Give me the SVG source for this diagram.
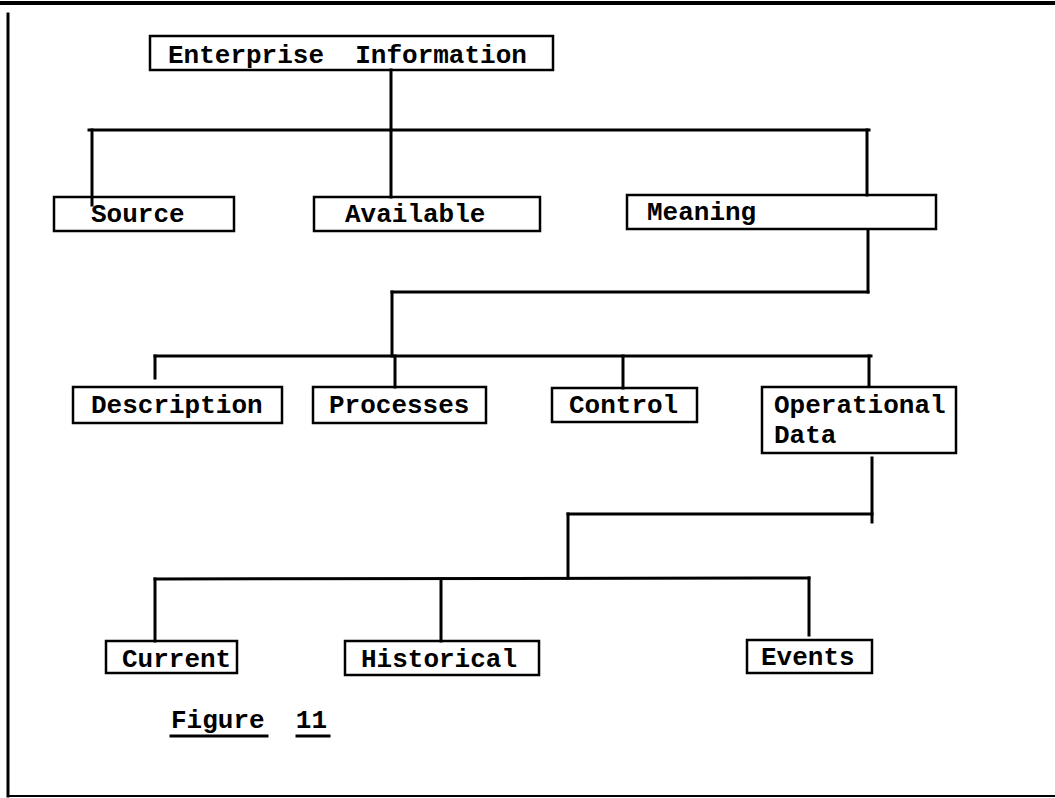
<svg xmlns="http://www.w3.org/2000/svg" width="1055" height="798" viewBox="0 0 1055 798">
<style>
.box{fill:none;stroke:#000;stroke-width:2.5}
.ln{stroke:#000;stroke-width:3;fill:none;stroke-linecap:square}
.t{font-family:"Liberation Mono","Courier New",monospace;font-size:26px;font-weight:bold;fill:#000}
</style>
<rect width="1055" height="798" fill="#fff"/>
<g id="border" class="ln">
<line x1="0" y1="3" x2="1055" y2="3" stroke-width="4"/>
<line x1="8" y1="14" x2="8" y2="796"/>
<line x1="8" y1="796" x2="1055" y2="796" stroke-width="2"/>
</g>
<g id="connectors" class="ln">
<line x1="391" y1="70" x2="391" y2="130"/>
<line x1="89" y1="130" x2="869" y2="130"/>
<line x1="92" y1="130" x2="92" y2="205"/>
<line x1="391" y1="130" x2="391" y2="197"/>
<line x1="867" y1="130" x2="867" y2="195"/>
<line x1="868" y1="231" x2="868" y2="292"/>
<line x1="392" y1="292" x2="868" y2="292"/>
<line x1="392" y1="292" x2="392" y2="356"/>
<line x1="155" y1="356" x2="871" y2="356"/>
<line x1="155" y1="356" x2="155" y2="378"/>
<line x1="395" y1="356" x2="395" y2="387"/>
<line x1="623" y1="356" x2="623" y2="388"/>
<line x1="869" y1="356" x2="869" y2="385"/>
<line x1="872" y1="458" x2="872" y2="522"/>
<line x1="568" y1="514" x2="872" y2="514"/>
<line x1="568" y1="514" x2="568" y2="578"/>
<line x1="155" y1="579" x2="809" y2="578"/>
<line x1="155" y1="579" x2="155" y2="641"/>
<line x1="441" y1="579" x2="441" y2="641"/>
<line x1="809" y1="578" x2="809" y2="635"/>
</g>
<g id="enterprise"><rect class="box" x="150" y="36" width="403" height="34"/><text class="t" x="168" y="63" xml:space="preserve">Enterprise  Information</text></g>
<g id="source"><rect class="box" x="54" y="197" width="180" height="34"/><text class="t" x="91" y="222">Source</text></g>
<g id="available"><rect class="box" x="314" y="197" width="226" height="34"/><text class="t" x="345" y="222">Available</text></g>
<g id="meaning"><rect class="box" x="627" y="195" width="309" height="34"/><text class="t" x="647" y="220">Meaning</text></g>
<g id="description"><rect class="box" x="73" y="387" width="209" height="36"/><text class="t" x="91" y="413">Description</text></g>
<g id="processes"><rect class="box" x="313" y="387" width="173" height="36"/><text class="t" x="329" y="413">Processes</text></g>
<g id="control"><rect class="box" x="552" y="388" width="145" height="34"/><text class="t" x="569" y="413">Control</text></g>
<g id="operational"><rect class="box" x="762" y="387" width="194" height="66"/><text class="t" x="774" y="413">Operational</text><text class="t" x="774" y="443">Data</text></g>
<g id="current"><rect class="box" x="106" y="641" width="131" height="32"/><text class="t" x="122" y="667">Current</text></g>
<g id="historical"><rect class="box" x="345" y="641" width="194" height="34"/><text class="t" x="361" y="667">Historical</text></g>
<g id="events"><rect class="box" x="747" y="640" width="125" height="33"/><text class="t" x="761" y="665">Events</text></g>
<g id="caption"><text class="t" x="171" y="728" xml:space="preserve">Figure  11</text>
<line class="ln" x1="171" y1="736" x2="267" y2="736" stroke-width="2.5"/>
<line class="ln" x1="297" y1="736" x2="329" y2="736" stroke-width="2.5"/></g>
</svg>
